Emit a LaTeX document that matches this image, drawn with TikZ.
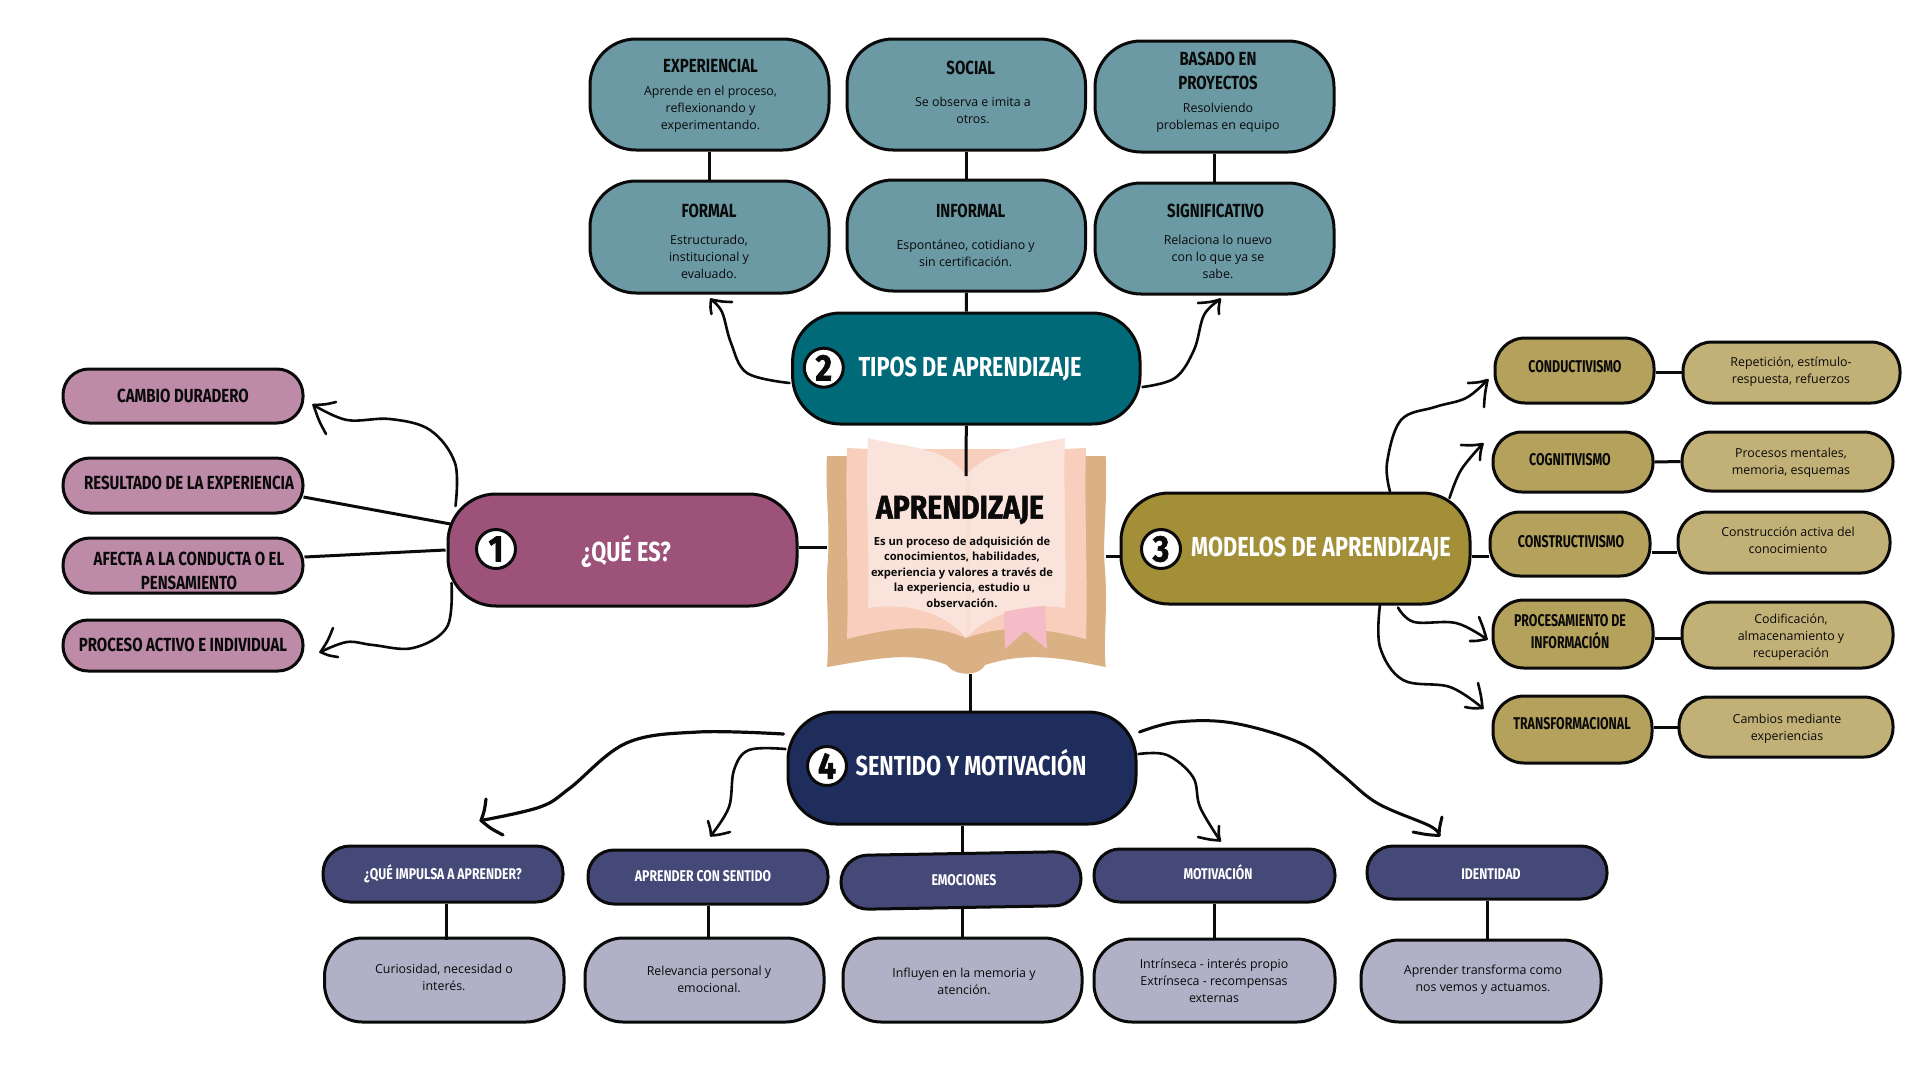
\documentclass[tikz,border=0pt]{standalone}
\usepackage{fontspec}
\setmainfont{Open Sans}
\newfontfamily\hdf[FakeStretch=0.79]{Fira Sans}
\newfontfamily\hdo[FakeStretch=0.73]{Fira Sans}
\newfontfamily\ttlf[FakeStretch=0.86,BoldFeatures={FakeBold=1.5}]{Fira Sans}
\definecolor{cMag}{HTML}{9C5279}\definecolor{cMagL}{HTML}{BD8BA8}
\definecolor{cTeal}{HTML}{016A78}\definecolor{cTealL}{HTML}{6B9AA5}
\definecolor{cOli}{HTML}{A28F38}\definecolor{cOliM}{HTML}{B4A15C}\definecolor{cOliL}{HTML}{C2B176}
\definecolor{cNav}{HTML}{1F2D5C}\definecolor{cNavM}{HTML}{444978}\definecolor{cNavL}{HTML}{B0B1C6}
\definecolor{cTan}{HTML}{D9B185}\definecolor{cPink}{HTML}{F8CEBD}\definecolor{cPage}{HTML}{FAE3DB}\definecolor{cMark}{HTML}{F5BCC8}
\definecolor{ink}{HTML}{0A0A0A}
\tikzset{
 x=1pt,y=-1pt,
 boxs/.style={draw=ink,line width=3pt,rounded corners=#1,inner sep=0pt},
 boxs/.default=26pt,
 link/.style={draw=ink,line width=3pt},
 hand/.style={draw=ink,line cap=round,line join=round},
 head/.style={text=ink,font=\hdf\bfseries\fontsize{19}{24}\selectfont,align=center,inner sep=0pt},
 headw/.style={text=white,font=\hdf\bfseries\fontsize{27.5}{32}\selectfont,align=center,inner sep=0pt},
 heads/.style={text=ink,font=\hdo\bfseries\fontsize{17}{22}\selectfont,align=center,inner sep=0pt},
 headn/.style={text=white,font=\hdf\bfseries\fontsize{15.5}{20}\selectfont,align=center,inner sep=0pt},
 bodyt/.style={text=ink,font=\fontsize{12.4}{17}\selectfont,align=center,inner sep=0pt},
 numc/.style={circle,draw=ink,fill=white,line width=3pt,minimum size=39pt,inner sep=0pt,text=ink,font=\ttlf\bfseries\fontsize{37}{37}\selectfont},
}
% name, fill, radius, x1, x2, y1, y2
\newcommand{\bx}[7]{\node[boxs=#3,fill=#2,minimum width=#5pt-#4pt,minimum height=#7pt-#6pt] (#1) at ({(#4+#5)/2},{(#6+#7)/2}) {};}
% arrow: [width] points, tip, barb, barb
\newcommand{\harrow}[5][2.6pt]{\draw[hand,line width=#1] plot[smooth,tension=0.6] coordinates {#2 #3}; \draw[hand,line width=#1] #4 .. controls ($#3!0.5!#4+(1,1)$) .. #3 .. controls ($#3!0.5!#5+(-1,1)$) .. #5;}
\usetikzlibrary{calc}
\begin{document}
\begin{tikzpicture}
\useasboundingbox[fill=white] (0,0) rectangle (1920,1080);

% Book
\begin{scope}
\fill[cTan] (827,456) -- (1105.7,456) .. controls (1108,500) and (1102,540) .. (1105,570) .. controls (1108,610) and (1103,640) .. (1105.7,667)
 .. controls (1070,660) and (1030,650) .. (985,665) .. controls (980,676) and (955,677) .. (947,665)
 .. controls (910,650) and (870,660) .. (827,667) .. controls (830,630) and (825,590) .. (828,560) .. controls (830,520) and (825,490) .. (827,456) -- cycle;
\fill[cPink] (847,448) -- (868,449) -- (1065,449) -- (1086,448) .. controls (1084,500) and (1088,580) .. (1086,639)
 .. controls (1050,630) and (1010,622) .. (966,638) .. controls (930,622) and (890,628) .. (847,639) .. controls (849,580) and (845,500) .. (847,448) -- cycle;
\fill[cPage] (868,438) .. controls (900,447) and (945,445) .. (966,476) .. controls (985,450) and (1030,445) .. (1065,438)
 .. controls (1063,490) and (1067,560) .. (1065,608) .. controls (1030,602) and (990,612) .. (966,638) .. controls (945,612) and (905,602) .. (868,608)
 .. controls (870,560) and (865,490) .. (868,438) -- cycle;
\fill[cPink,opacity=.25] (966,476) -- (970,480) -- (970,630) -- (966,638) -- cycle;
\fill[cMark] (1004,612) .. controls (1020,608) and (1035,607) .. (1045,606) -- (1047,649) -- (1025,631) -- (1005,649) -- cycle;
\end{scope}

% Main boxes
\bx{que}{cMag}{48pt}{448}{797}{494}{606}
\bx{tip}{cTeal}{48pt}{792.6}{1140}{313}{424}
\bx{mod}{cOli}{48pt}{1121}{1470}{493}{604}
\bx{sen}{cNav}{48pt}{788}{1136}{712}{824}
% Left
\bx{cam}{cMagL}{26pt}{63}{303}{369}{423}
\bx{res}{cMagL}{27pt}{63}{303}{458}{513}
\bx{afe}{cMagL}{27pt}{63}{303}{538}{593}
\bx{pro}{cMagL}{25pt}{63}{303}{620}{671}
% Top
\bx{exp}{cTealL}{46pt}{590}{829}{39}{150}
\bx{soc}{cTealL}{46pt}{847}{1085.5}{39}{150}
\bx{bas}{cTealL}{46pt}{1095}{1334}{41}{152}
\bx{for}{cTealL}{46pt}{590}{829}{181}{293}
\bx{inf}{cTealL}{46pt}{847}{1085.5}{180}{291}
\bx{sig}{cTealL}{46pt}{1095}{1334}{183}{294}
% Right
\bx{con}{cOliM}{30pt}{1495}{1654}{338}{403}
\bx{cog}{cOliM}{29pt}{1493}{1653}{432}{492}
\bx{cst}{cOliM}{30pt}{1490}{1650}{512}{576}
\bx{pcs}{cOliM}{31pt}{1493}{1653}{600}{668}
\bx{trf}{cOliM}{31pt}{1493}{1652}{696}{763}
\bx{ra}{cOliL}{29pt}{1683}{1900}{342}{403}
\bx{rb}{cOliL}{29pt}{1682}{1893}{432}{491}
\bx{rc}{cOliL}{29pt}{1678}{1890}{512}{573}
\bx{rd}{cOliL}{31pt}{1682}{1893}{602}{668}
\bx{re}{cOliL}{29pt}{1679}{1893}{697}{757}
% Bottom
\bx{qui}{cNavM}{27pt}{323}{563}{846}{902}
\bx{aps}{cNavM}{26pt}{588}{828}{850}{904}
\node[boxs=27pt,fill=cNavM,minimum width=240pt,minimum height=54pt,rotate=1] (emo) at (961,880.5) {};
\bx{mot}{cNavM}{26pt}{1094}{1335}{849}{902}
\bx{ide}{cNavM}{26pt}{1367}{1607}{846}{899}
\bx{la}{cNavL}{38pt}{324.5}{564}{938}{1022}
\bx{lb}{cNavL}{38pt}{585}{824}{938}{1022}
\bx{lc}{cNavL}{38pt}{843}{1082}{938}{1022}
\bx{ld}{cNavL}{38pt}{1094}{1335}{939}{1022}
\bx{le}{cNavL}{38pt}{1361}{1601}{940}{1022}

% Anchors for the book and for side links
\coordinate (bkT) at (966,476);
\coordinate (bkB) at (970.3,674);
\coordinate (bkL) at (827,547);
\coordinate (bkR) at (1105.7,556);
\coordinate (yA) at (0,556);
\coordinate (yB) at (0,552);
\coordinate (yC) at (0,638);

% Straight connectors
\draw[link] (exp.south) -- (for.north);
\draw[link] (soc.south) -- (inf.north);
\draw[link] (bas.south) -- (sig.north);
\draw[link] (inf.south) -- (tip.north);
\draw[link] (tip.south) -- (bkT);
\draw[link] (bkB) -- (bkB |- sen.north);
\draw[link] (que.east |- bkL) -- (bkL);
\draw[link] (bkR) -- (bkR -| mod.west);
\draw[link] (mod.east |- yA) -- (cst.west |- yA);
\draw[link] ($(res.east)+(-1,11.5)$) -- ($(que.west)+(4,-26)$);
\draw[link] ($(afe.east)+(0,-8.5)$) -- ($(que.west)+(-1,0)$);
\draw[link] (con.east |- ra.west) -- (ra.west);
\draw[link] (cog.east) -- (rb.west);
\draw[link] (cst.east |- yB) -- (rc.west |- yB);
\draw[link] (pcs.east |- yC) -- (rd.west |- yC);
\draw[link] (trf.east |- re.west) -- (re.west);
\draw[link] (sen.south) -- (sen.south |- emo.north);
\draw[link] ($(qui.south)+(3,0)$) -- ($(qui.south)+(3,36)$);
\draw[link] (aps.south) -- (aps.south |- lb.north);
\draw[link] (lc.north) -- (lc.north |- emo.south);
\draw[link] (mot.south) -- (ld.north);
\draw[link] (ide.south) -- (ide.south |- le.north);

% Hand-drawn arrows: start and tip hang off the named boxes
\coordinate (aS1) at ($(tip.west)+(-1.6,14.5)$);  \coordinate (aT1) at ($(for.south)+(1.5,5)$);
\coordinate (aS2) at ($(tip.east)+(1,18.5)$);     \coordinate (aT2) at ($(sig.south)+(5.5,4)$);
\coordinate (aS3) at ($(que.west)+(9,-44)$);      \coordinate (aT3) at ($(cam.east)+(9,9)$);
\coordinate (aS4) at ($(que.west)+(5,33)$);       \coordinate (aT4) at ($(pro.east)+(16,6.5)$);
\coordinate (aS5) at ($(mod.north)+(94.5,0)$);    \coordinate (aT5) at ($(con.west)+(-6,9.5)$);
\coordinate (aS6) at ($(mod.east)+(-22,-50.5)$);  \coordinate (aT6) at ($(cog.west)+(-9,-18)$);
\coordinate (aS7) at ($(mod.south)+(102.5,2)$);   \coordinate (aT7) at ($(pcs.west)+(-5,5)$);
\coordinate (aS8) at ($(mod.south)+(84.5,-1)$);   \coordinate (aT8) at ($(trf.west)+(-9,-21.5)$);
\coordinate (aS9) at ($(sen.west)+(-3,-34)$);     \coordinate (aT9) at ($(qui.north)+(38,-24)$);
\coordinate (aS10) at ($(sen.west)+(-1,-19)$);    \coordinate (aT10) at ($(aps.north)+(3,-13)$);
\coordinate (aS11) at ($(sen.east)+(1,-14)$);     \coordinate (aT11) at ($(mot.north)+(5.5,-7)$);
\coordinate (aS12) at ($(sen.east)+(2,-36)$);     \coordinate (aT12) at ($(ide.north)+(-48,-9)$);
\harrow{(aS1) (747,373) (731,343) (722,312) }{(aT1)}{(732,302)}{(711.5,314)}
\harrow{(aS2) (1175,378) (1194,350) (1204,315) }{(aT2)}{(1198,303)}{(1219,314)}
\harrow{(aS3) (455,463) (430,430) (390,419) (347,420) }{(aT3)}{(336,402)}{(326,434)}
\harrow{(aS4) (447,627) (413,648) (373,645) (347,642) }{(aT4)}{(333,628)}{(338,657)}
\harrow{(aS5) (1387,463) (1401,420) (1435,407) (1466,398) }{(aT5)}{(1468,383)}{(1484,407)}
\harrow{(aS6) (1461,470) }{(aT6)}{(1461,445)}{(1480,460)}
\harrow{(aS7) (1414,622) (1456,623) }{(aT7)}{(1479,617)}{(1470,641)}
\harrow{(aS8) (1380,647) (1403,680) (1450,687) }{(aT8)}{(1478,683)}{(1465,707)}
\harrow[3.2pt]{(aS9) (698,732) (626.5,743) (570,788) (540,807) }{(aT9)}{(486,799)}{(503,835)}
\harrow{(aS10) (749,750) (734,770) (729,807) }{(aT10)}{(708,821)}{(730,832)}
\harrow{(aS11) (1167,755) (1193,777) (1200,807) }{(aT11)}{(1198,837)}{(1219,826)}
\harrow[3pt]{(aS12) (1177,722) (1233,723) (1300,743) (1340,773) (1377,803) (1430,826) }{(aT12)}{(1413,832)}{(1442,817)}

% Number circles
\node[numc] (n1) at (496,549) {1};
\node[numc] (n2) at (823.8,367.7) {2};
\node[numc] (n3) at (1161,549) {3};
\node[numc] (n4) at (827,766) {4};

% Main labels
\node[headw] (t1) at (626,551) {¿QUÉ ES?};
\node[headw] (t2) at (970,369) {TIPOS DE APRENDIZAJE};
\node[headw] (t3) at (1321,549) {MODELOS DE APRENDIZAJE};
\node[headw] (t4) at (971,763) {SENTIDO Y MOTIVACIÓN};

% Book text
\node[inner sep=0pt,text=ink,font=\ttlf\bfseries\fontsize{33}{33}\selectfont] (bt) at (960,510) {APRENDIZAJE};
\node[inner sep=0pt,align=center,text=ink,font=\bfseries\fontsize{11.2}{15.4}\selectfont] (bb) at (962,572) {Es un proceso de adquisición de\\conocimientos, habilidades,\\experiencia y valores a través de\\la experiencia, estudio u\\observación.};

% Left labels
\node[head] (tcam) at (183,396) {CAMBIO DURADERO};
\node[head] (tres) at (189,483) {RESULTADO DE LA EXPERIENCIA};
\node[head] (tafe) at (189,570.5) {AFECTA A LA CONDUCTA O EL\\PENSAMIENTO};
\node[head] (tpro) at (183,645) {PROCESO ACTIVO E INDIVIDUAL};

% Top labels
\node[head] (h1) at (710.5,65.7) {EXPERIENCIAL};
\node[bodyt] (b1) at (710.5,109.5) {Aprende en el proceso,\\reflexionando y\\experimentando.};
\node[head] (h2) at (970.7,67.7) {SOCIAL};
\node[bodyt] (b2) at (973,110.2) {Se observa e imita a\\otros.};
\node[head] (h3) at (1218,71) {BASADO EN\\PROYECTOS};
\node[bodyt] (b3) at (1218,118) {Resolviendo\\problemas en equipo};
\node[head] (h4) at (709,210.7) {FORMAL};
\node[bodyt] (b4) at (709,256.7) {Estructurado,\\institucional y\\evaluado.};
\node[head] (h5) at (970.7,210.7) {INFORMAL};
\node[bodyt] (b5) at (965.6,253.2) {Espontáneo, cotidiano y\\sin certificación.};
\node[head] (h6) at (1215.6,210.7) {SIGNIFICATIVO};
\node[bodyt] (b6) at (1218,256.7) {Relaciona lo nuevo\\con lo que ya se\\sabe.};

% Right labels
\node[heads] (r1) at (1575,367) {CONDUCTIVISMO};
\node[heads] (r2) at (1570,460) {COGNITIVISMO};
\node[heads] (r3) at (1571,542) {CONSTRUCTIVISMO};
\node[heads] (r4) at (1570,632) {PROCESAMIENTO DE\\INFORMACIÓN};
\node[heads] (r5) at (1572,724) {TRANSFORMACIONAL};
\node[bodyt] (s1) at (1791,371.5) {Repetición, estímulo-\\respuesta, refuerzos};
\node[bodyt] (s2) at (1791,462.5) {Procesos mentales,\\memoria, esquemas};
\node[bodyt] (s3) at (1788,540.5) {Construcción activa del\\conocimiento};
\node[bodyt] (s4) at (1791,637.5) {Codificación,\\almacenamiento y\\recuperación};
\node[bodyt] (s5) at (1787,729) {Cambios mediante\\experiencias};

% Bottom labels
\node[headn] (q1) at (443,873.7) {¿QUÉ IMPULSA A APRENDER?};
\node[headn] (q2) at (703,875.7) {APRENDER CON SENTIDO};
\node[headn] (q3) at (964,879.7) {EMOCIONES};
\node[headn] (q4) at (1218,872) {MOTIVACIÓN};
\node[headn] (q5) at (1491,874) {IDENTIDAD};
\node[bodyt] (u1) at (444,977) {Curiosidad, necesidad o\\interés.};
\node[bodyt] (u2) at (709,979.2) {Relevancia personal y\\emocional.};
\node[bodyt] (u3) at (964,981.2) {Influyen en la memoria y\\atención.};
\node[bodyt] (u4) at (1214,981) {Intrínseca - interés propio\\Extrínseca - recompensas\\externas};
\node[bodyt] (u5) at (1483,980) {Aprender transforma como\\nos vemos y actuamos.};
\end{tikzpicture}
\end{document}
